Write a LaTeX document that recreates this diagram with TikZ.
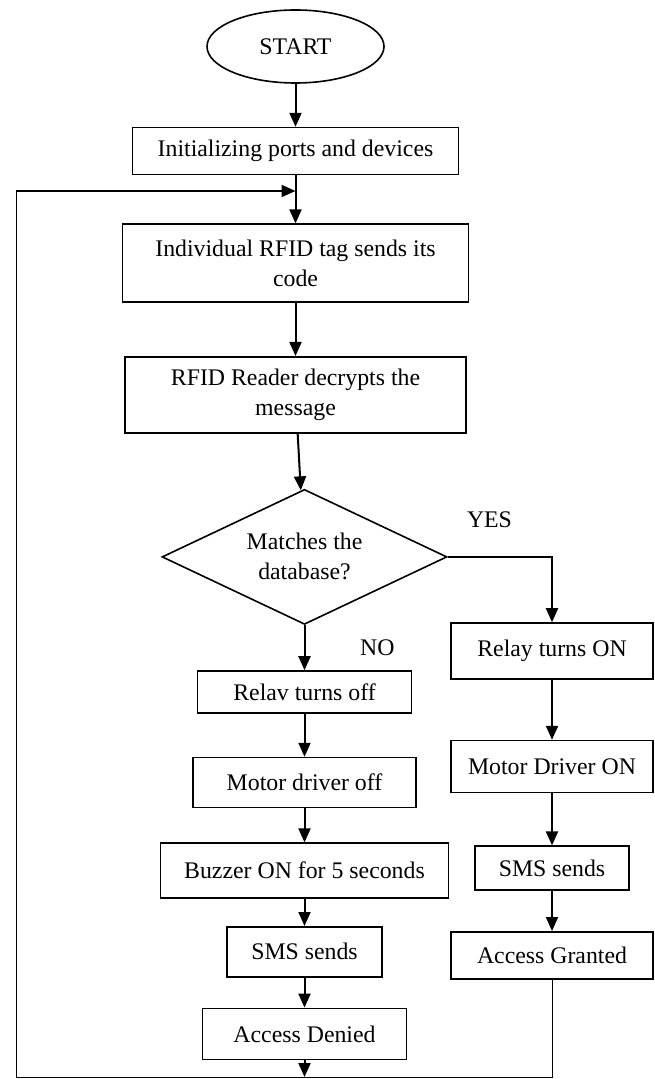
\documentclass[tikz,border=0pt]{standalone}
\usepackage{fontspec}
\setmainfont{Liberation Serif}
\usetikzlibrary{arrows.meta, positioning, shapes.geometric}

\begin{document}
\begin{tikzpicture}[every node/.style={font={\fontsize{11.9pt}{15pt}\selectfont}}, >={Triangle[length=7pt,width=6pt]}, line width=0.8pt,
    procbox/.style={draw, rectangle, align=center, inner sep=2pt},
    startnode/.style={draw, ellipse, inner sep=0pt},
    decnode/.style={draw, diamond, aspect=2.1, align=center, inner sep=0pt},
    flow/.style={->, line width=1pt}]
    \useasboundingbox (0,0) rectangle (327pt,-539.5pt);

    % main column
    \node[startnode, minimum width=88.5pt, minimum height=36.5pt] (start) at (147.75pt,-23.25pt) {START};
    \node[procbox, minimum width=163pt, minimum height=23.5pt] (init) [below=21.5pt of start] {Initializing ports and devices};
    \node[procbox, minimum width=173pt, minimum height=39pt] (tag) [below=24pt of init] {Individual RFID tag sends its\\code};
    \node[procbox, minimum width=170.5pt, minimum height=38pt] (reader) [below=26.5pt of tag] {RFID Reader decrypts the\\message};
    \node[decnode, minimum width=142.5pt, minimum height=67.5pt] (dec) [below=27.5pt of reader, xshift=4.5pt] {Matches the\\database?};

    % NO branch
    \node[procbox, minimum width=107pt, minimum height=21pt] (relayoff) [below=22.5pt of dec] {Relav turns off};
    \node[procbox, minimum width=111.5pt, minimum height=25pt] (motoroff) [below=21.5pt of relayoff] {Motor driver off};
    \node[procbox, minimum width=144pt, minimum height=27.5pt] (buzzer) [below=17pt of motoroff] {Buzzer ON for 5 seconds};
    \node[procbox, minimum width=77.5pt, minimum height=25pt] (smsno) [below=13.5pt of buzzer] {SMS sends};
    \node[procbox, minimum width=102pt, minimum height=25.5pt] (denied) [below=15pt of smsno] {Access Denied};

    % YES branch
    \node[procbox, minimum width=101pt, minimum height=28pt] (relayon) at (276pt,-325.5pt) {Relay turns ON};
    \node[procbox, minimum width=101pt, minimum height=26pt] (motoron) [below=30pt of relayon] {Motor Driver ON};
    \node[procbox, minimum width=77pt, minimum height=22pt] (smsyes) [below=26pt of motoron] {SMS sends};
    \node[procbox, minimum width=101pt, minimum height=23.5pt] (granted) [below=20pt of smsyes] {Access Granted};

    \coordinate (loopbl) at (8pt,-538.5pt);
    \coordinate (looptl) at (8pt,-95.5pt);

    \draw[flow] (start) -- (init);
    \draw[flow] (init) -- (tag);
    \draw[flow] (tag) -- (reader);
    \draw[flow] (reader) -- (dec);
    \draw[flow] (dec.east) -| node[pos=0.2, above=11pt] {YES} (relayon.north);
    \draw[flow] (dec) -- node[right=24pt] {NO} (relayoff);
    \draw[flow] (relayoff) -- (motoroff);
    \draw[flow] (motoroff) -- (buzzer);
    \draw[flow] (buzzer) -- (smsno);
    \draw[flow] (smsno) -- (denied);
    \draw[flow] (relayon) -- (motoron);
    \draw[flow] (motoron) -- (smsyes);
    \draw[flow] (smsyes) -- (granted);
    \draw[flow] (denied) -- (denied |- loopbl);
    % back to the tag reading
    \draw[line width=0.5pt] (granted.south) |- (loopbl) -- (looptl);
    \draw[flow] (looptl) -- (looptl -| tag.north);
\end{tikzpicture}
\end{document}
